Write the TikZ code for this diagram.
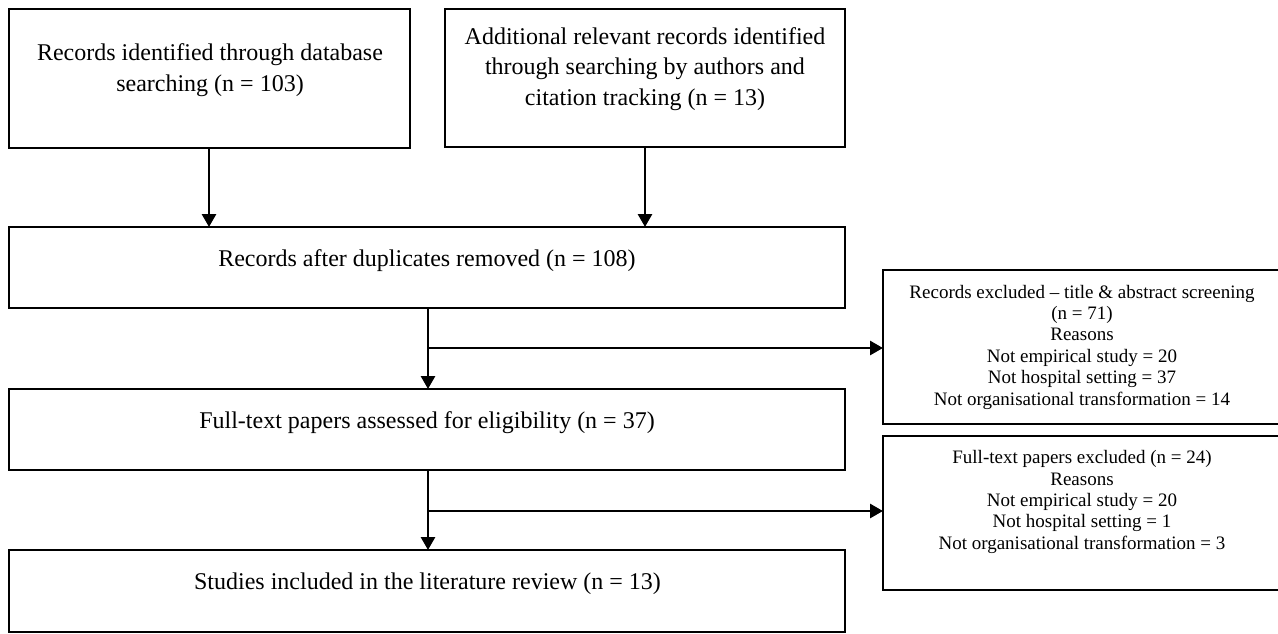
\documentclass[tikz,border=0pt]{standalone}
\usepackage{fontspec}
\setmainfont{Liberation Serif}
\usetikzlibrary{arrows.meta}
\begin{document}
\begin{tikzpicture}[x=1pt,y=-1pt,
  box/.style={draw,line width=2.8pt,inner sep=0pt},
  big/.style={font=\fontsize{24}{30.5}\selectfont,align=center},
  small/.style={font=\fontsize{19}{21.4}\selectfont,align=center},
  arr/.style={line width=2.8pt,-{Triangle[length=13pt,width=14pt]}}]
\useasboundingbox (0,0) rectangle (1278,633);
\draw[box] (9,9) rectangle (410,148);
\node[big] (t1) at (210,70) {Records identified through database\\searching (n = 103)};
\coordinate (b1) at (209,148);
\draw[box] (445,9) rectangle (845,147);
\node[big] (t2) at (645,69) {Additional relevant records identified\\through searching by authors and\\citation tracking (n = 13)};
\coordinate (b2) at (645,147);
\draw[box] (9,227) rectangle (845,308);
\node[big] (t3) at (427,261) {Records after duplicates removed (n = 108)};
\coordinate (c1) at (209,227);
\coordinate (c2) at (645,227);
\draw[box] (9,389) rectangle (845,470);
\node[big] (t4) at (427,423) {Full-text papers assessed for eligibility (n = 37)};
\draw[box] (9,550) rectangle (845,632);
\node[big] (t5) at (427.5,584) {Studies included in the literature review (n = 13)};
\draw[box] (883,270) rectangle (1282,424);
\node[small] (r1) at (1082,347) {Records excluded -- title \& abstract screening\\(n = 71)\\Reasons\\Not empirical study = 20\\Not hospital setting = 37\\Not organisational transformation = 14};
\draw[box] (883,436) rectangle (1282,590);
\node[small] (r2) at (1082,502) {Full-text papers excluded (n = 24)\\Reasons\\Not empirical study = 20\\Not hospital setting = 1\\Not organisational transformation = 3};
\draw[arr] (b1) -- (c1);
\draw[arr] (b2) -- (c2);
\coordinate (d1) at (428,308);
\coordinate (e1) at (428,389);
\coordinate (j1) at (428,348);
\coordinate (k1) at (883,348);
\draw[arr] (d1) -- (e1);
\draw[arr] (j1) -- (k1);
\coordinate (d2) at (428,470);
\coordinate (e2) at (428,550);
\coordinate (j2) at (428,511);
\coordinate (k2) at (883,511);
\draw[arr] (d2) -- (e2);
\draw[arr] (j2) -- (k2);
\end{tikzpicture}
\end{document}
